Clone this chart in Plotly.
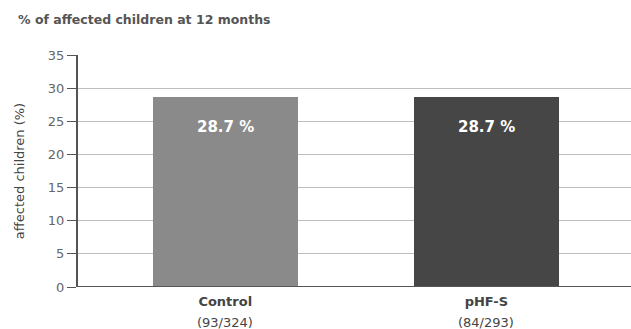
import plotly.graph_objects as go

categories = ["Control", "pHF-S"]
counts = ["(93/324)", "(84/293)"]
values = [28.7, 28.7]
bar_colors = ["#8a8a8a", "#464646"]
y_ticks = [0, 5, 10, 15, 20, 25, 30, 35]

FONT = "DejaVu Sans, Verdana, sans-serif"
x_pos = list(range(len(categories)))

fig = go.Figure()
fig.add_trace(go.Bar(
    x=x_pos, y=values, width=0.555,
    marker=dict(color=bar_colors, line=dict(width=0)),
    hoverinfo="skip",
))

# value labels inside the bars
for xi, v in zip(x_pos, values):
    fig.add_annotation(
        x=xi, y=v, text=f"<b>{v:.1f} %</b>", showarrow=False,
        yshift=-30, font=dict(family=FONT, size=15, color="white"),
    )

# sample counts under the category names
for xi, n in zip(x_pos, counts):
    fig.add_annotation(
        x=xi, xref="x", y=0, yref="paper", text=n, showarrow=False,
        yanchor="middle", yshift=-35, font=dict(family=FONT, size=13, color="#444444"),
    )

fig.add_annotation(
    xref="paper", yref="paper", x=-0.112, y=1.155, xanchor="left", yanchor="middle",
    text="<b>% of affected children at 12 months</b>", showarrow=False,
    font=dict(family=FONT, size=12.5, color="#555555"),
)

fig.update_layout(
    width=631, height=329,
    margin=dict(l=78, r=0, t=55, b=42),
    paper_bgcolor="white", plot_bgcolor="white",
    showlegend=False,
    bargap=0,
    font=dict(family=FONT, color="#444444"),
)
fig.update_xaxes(
    range=[-0.564, 1.554], tickvals=x_pos,
    ticktext=[f"<b>{c}</b>" for c in categories],
    showgrid=False, zeroline=False, showline=False, ticks="",
    ticklabelstandoff=5,
    tickfont=dict(family=FONT, size=13, color="#444444"),
)
fig.update_yaxes(
    range=[0, 35], tickvals=y_ticks, showgrid=True, gridcolor="#bdbdbd", gridwidth=1,
    zeroline=False, showline=True, linecolor="#555555", linewidth=2,
    ticks="outside", ticklen=9, tickcolor="#555555",
    tickfont=dict(family=FONT, size=13, color="#666666"),
    title=dict(text="affected children (%)",
               font=dict(family=FONT, size=13, color="#444444"), standoff=20),
)
# baseline at zero
fig.add_shape(type="line", xref="paper", yref="y", x0=0, x1=1, y0=0, y1=0,
              line=dict(color="#555555", width=2))

fig.write_html("out.html")
